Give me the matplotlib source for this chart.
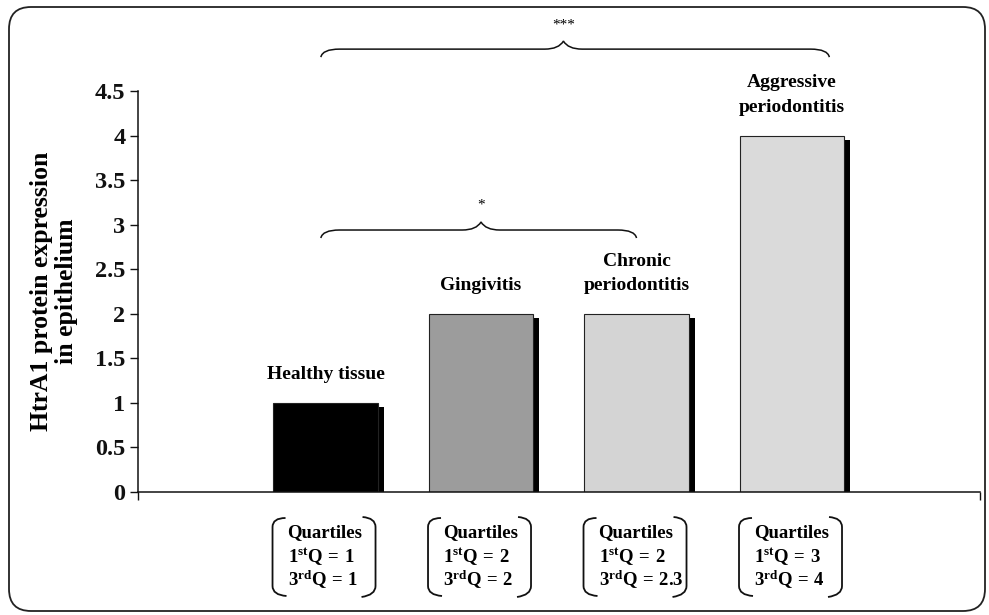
import matplotlib
matplotlib.use("Agg")
import matplotlib.pyplot as plt
import matplotlib.patheffects as pe
from matplotlib.patches import FancyBboxPatch, PathPatch
from matplotlib.path import Path

# ---- data ----
categories = ["Healthy tissue", "Gingivitis", "Chronic\nperiodontitis", "Aggressive\nperiodontitis"]
values = [1, 2, 2, 4]
q1_values = ["1", "2", "2", "3"]
q3_values = ["1", "2", "2.3", "4"]
y_ticks = [0, 0.5, 1, 1.5, 2, 2.5, 3, 3.5, 4, 4.5]
y_tick_labels = ["0", "0.5", "1", "1.5", "2", "2.5", "3", "3.5", "4", "4.5"]
ylabel = "HtrA1 protein expression\nin epithelium"
sig_top = "***"
sig_low = "*"

bar_colors = ["#000000", "#9c9c9c", "#d4d4d4", "#dadada"]

plt.rcParams['font.family'] = ['Liberation Serif', 'DejaVu Serif']
plt.rcParams['mathtext.fontset'] = 'custom'
plt.rcParams['mathtext.rm'] = 'Liberation Serif:bold'
plt.rcParams['mathtext.it'] = 'Liberation Serif:bold'
plt.rcParams['mathtext.bf'] = 'Liberation Serif:bold'

W, H = 989, 615
fig = plt.figure(figsize=(W / 100, H / 100), dpi=100)
fig.patch.set_facecolor("white")

# overlay axes in pixel coordinates (for frame + quartile boxes)
ov = fig.add_axes([0, 0, 1, 1], zorder=0)
ov.set_xlim(0, W)
ov.set_ylim(0, H)
ov.axis("off")
ov.patch.set_alpha(0)

frame = FancyBboxPatch((9, 4), 976, 604, boxstyle="round,pad=0,rounding_size=22",
                       fc="none", ec="#222222", lw=1.3)
ov.add_patch(frame)

ax = fig.add_axes([138 / W, (H - 492) / H, (980 - 138) / W, (492 - 91) / H], zorder=1)
ax.patch.set_alpha(0)
x = list(range(len(categories)))
xlim = (-1.206, 4.209)
ax.set_xlim(*xlim)
ax.set_ylim(0, 4.5)

bars = ax.bar(x, values, width=0.675, color=bar_colors, edgecolor="#222222", linewidth=0.8,
              zorder=2)
for b in bars:
    b.set_path_effects([pe.SimplePatchShadow(offset=(4.3, -2.9), shadow_rgbFace="black", alpha=1.0),
                        pe.Normal()])

for xi, v, lab in zip(x, values, categories):
    ax.annotate(lab, (xi, v), xytext=(0, 14), textcoords="offset points", ha="center",
                va="bottom", fontsize=14, fontweight="bold", multialignment="center",
                linespacing=1.6, annotation_clip=False)

ax.set_yticks(y_ticks)
ax.set_yticklabels(y_tick_labels, fontsize=17.5, fontweight="bold")
ax.set_xticks(list(xlim))
ax.set_xticklabels(["", ""])
ax.tick_params(axis="y", direction="out", length=5.5, width=1.0, pad=3.5, colors="#111111")
ax.tick_params(axis="x", direction="out", length=5.5, width=1.0, colors="#111111")
for s in ["top", "right"]:
    ax.spines[s].set_visible(False)
for s in ["left", "bottom"]:
    ax.spines[s].set_linewidth(1.1)
    ax.spines[s].set_color("#111111")

fig.text(54 / W, 1 - 291 / H, ylabel, rotation=90, ha="center", va="center",
         multialignment="center", fontsize=18.5, fontweight="bold", linespacing=1.15)


# curly braces in data coords
def brace(x0, x1, xm, y_end, y_flat, y_tip, dx=0.12, dxm=0.12):
    verts = [(x0, y_end), (x0 + 0.01, y_flat), (x0 + dx, y_flat),
             (xm - dxm, y_flat),
             (xm - 0.03, y_flat), (xm, y_tip),
             (xm + 0.03, y_flat), (xm + dxm, y_flat),
             (x1 - dx, y_flat),
             (x1 - 0.01, y_flat), (x1, y_end)]
    codes = [Path.MOVETO, Path.CURVE3, Path.CURVE3, Path.LINETO,
             Path.CURVE3, Path.CURVE3, Path.CURVE3, Path.CURVE3,
             Path.LINETO, Path.CURVE3, Path.CURVE3]
    p = PathPatch(Path(verts, codes), fc="none", ec="#111111", lw=1.1, clip_on=False)
    ax.add_patch(p)


top_mid = 1.53
brace(x[0] - 0.03, x[3] + 0.24, top_mid, 4.88, 4.97, 5.06)
ax.text(top_mid, 5.24, sig_top, ha="center", va="center", fontsize=11, clip_on=False)
brace(x[0] - 0.03, x[2], x[1], 2.85, 2.94, 3.03)
ax.text(x[1], 3.22, sig_low, ha="center", va="center", fontsize=11, clip_on=False)

# quartile boxes
top_y, bot_y = H - 518, H - 595
for xi, q1, q3 in zip(x, q1_values, q3_values):
    cx = ax.transData.transform((xi, 0))[0]
    xl, xr = cx - 53, cx + 50
    lp = Path([(xl + 13, top_y), (xl, top_y), (xl, top_y - 9), (xl, bot_y + 9),
               (xl, bot_y), (xl + 14, bot_y - 1)],
              [Path.MOVETO, Path.CURVE3, Path.CURVE3, Path.LINETO, Path.CURVE3, Path.CURVE3])
    rp = Path([(xr - 13, top_y + 1), (xr, top_y), (xr, top_y - 9), (xr, bot_y + 9),
               (xr, bot_y), (xr - 14, bot_y - 2)],
              [Path.MOVETO, Path.CURVE3, Path.CURVE3, Path.LINETO, Path.CURVE3, Path.CURVE3])
    for pth in (lp, rp):
        ov.add_patch(PathPatch(pth, fc="none", ec="#111111", lw=1.3))
    tx = cx - 38
    ov.text(tx, H - 533, "Quartiles", ha="left", va="center", fontsize=13.5, fontweight="bold")
    ov.text(tx, H - 557, r"$1^{st}Q\,=\,%s$" % q1, ha="left", va="center", fontsize=13.5)
    ov.text(tx, H - 580, r"$3^{rd}Q\,=\,%s$" % q3, ha="left", va="center", fontsize=13.5)

fig.savefig("out.png", dpi=100, facecolor="white")
